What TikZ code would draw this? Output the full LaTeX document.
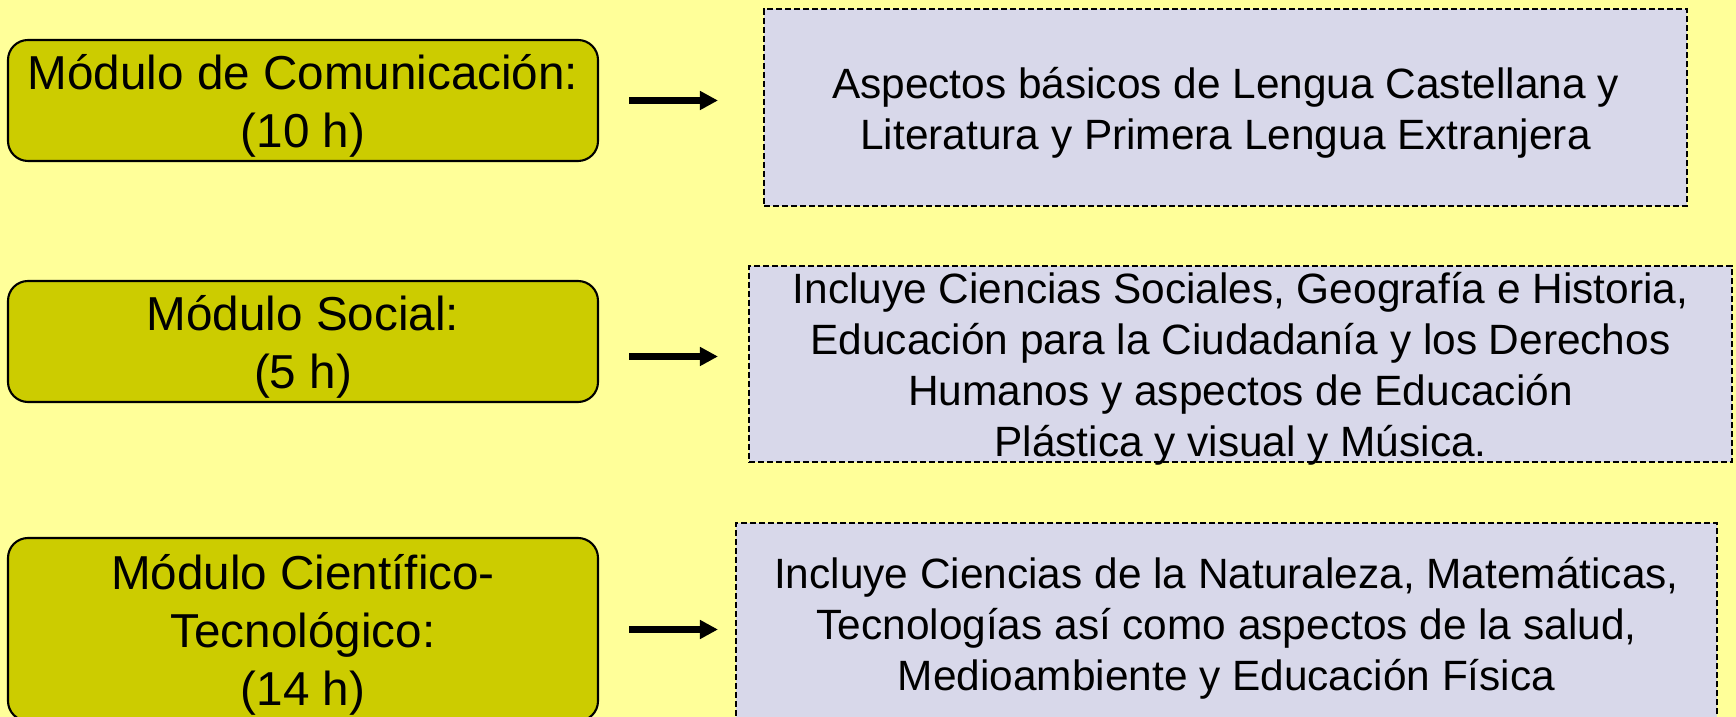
\documentclass[tikz,border=0pt]{standalone}
\usepackage{fontspec}
\setmainfont{Liberation Sans}
\usepackage{tikz}
\usetikzlibrary{arrows.meta}
\usetikzlibrary{calc}
\definecolor{fondo}{RGB}{255,255,153}
\definecolor{oliva}{RGB}{204,204,0}
\definecolor{lila}{RGB}{216,216,234}
\tikzstyle{modulo} = [rectangle, rounded corners=0.2cm, draw=black, line width=0.6pt, fill=oliva, minimum width=5.9cm, inner sep=0pt, align=center, font=\fontsize{13.55pt}{16.5pt}\selectfont]
\tikzstyle{contenido} = [rectangle, draw=black, line width=0.6pt, dash pattern=on 0.06cm off 0.03cm, fill=lila, inner sep=0pt, align=center, font=\fontsize{12.06pt}{14.5pt}\selectfont]
\tikzstyle{arrow} = [line width=0.067cm, -{Triangle[length=0.18cm, width=0.18cm]}]
\newcommand{\primera}{\rule{0pt}{0.97em}} % first line a bit lower, as in the slide

\begin{document}
\begin{tikzpicture}
    \clip (0,0) rectangle (17.36,-7.17);
    \fill [fondo] (0,0) rectangle (17.36,-7.17); %% background

    \node[modulo, minimum height=1.21cm] (com) at (3.03,-1.005) {\primera M\'odulo de Comunicaci\'on:\\(10 h)};
    \node[modulo, minimum height=1.21cm] (soc) at (3.03,-3.415) {\primera M\'odulo Social:\\(5 h)};
    \node[modulo, minimum height=1.83cm] (cien) at (3.03,-6.295) {\primera M\'odulo Cient\'ifico-\\Tecnol\'ogico:\\(14 h)};

    \node[contenido, minimum width=9.23cm, minimum height=1.97cm] (comtext) at (12.255,-1.075) {\primera Aspectos b\'asicos de Lengua Castellana y\\Literatura y Primera Lengua Extranjera};
    \node[contenido, minimum width=9.83cm, minimum height=1.96cm, inner ysep=-1pt] (soctext) at (12.405,-3.64) {\primera Incluye Ciencias Sociales, Geograf\'ia e Historia,\\Educaci\'on para la Ciudadan\'ia y los Derechos\\Humanos y aspectos de Educaci\'on\\Pl\'astica y visual y M\'usica.}; %% text runs over the border
    \node[contenido, minimum width=9.81cm, minimum height=2.0cm] (cientext) at (12.265,-6.23) {\primera Incluye Ciencias de la Naturaleza, Matem\'aticas,\\Tecnolog\'ias as\'i como aspectos de la salud,\\Medioambiente y Educaci\'on F\'isica};

    \draw [arrow, shorten <=0.3cm, shorten >=0.45cm] (com.east) -- (com.east -| comtext.west);
    \draw [arrow, shorten <=0.3cm, shorten >=0.30cm] ([yshift=-0.15cm]soc.east) -- ([yshift=-0.15cm]soc.east -| soctext.west);
    \draw [arrow, shorten <=0.3cm, shorten >=0.17cm] (cien.east) -- (cien.east -| cientext.west);
\end{tikzpicture}
\end{document}
